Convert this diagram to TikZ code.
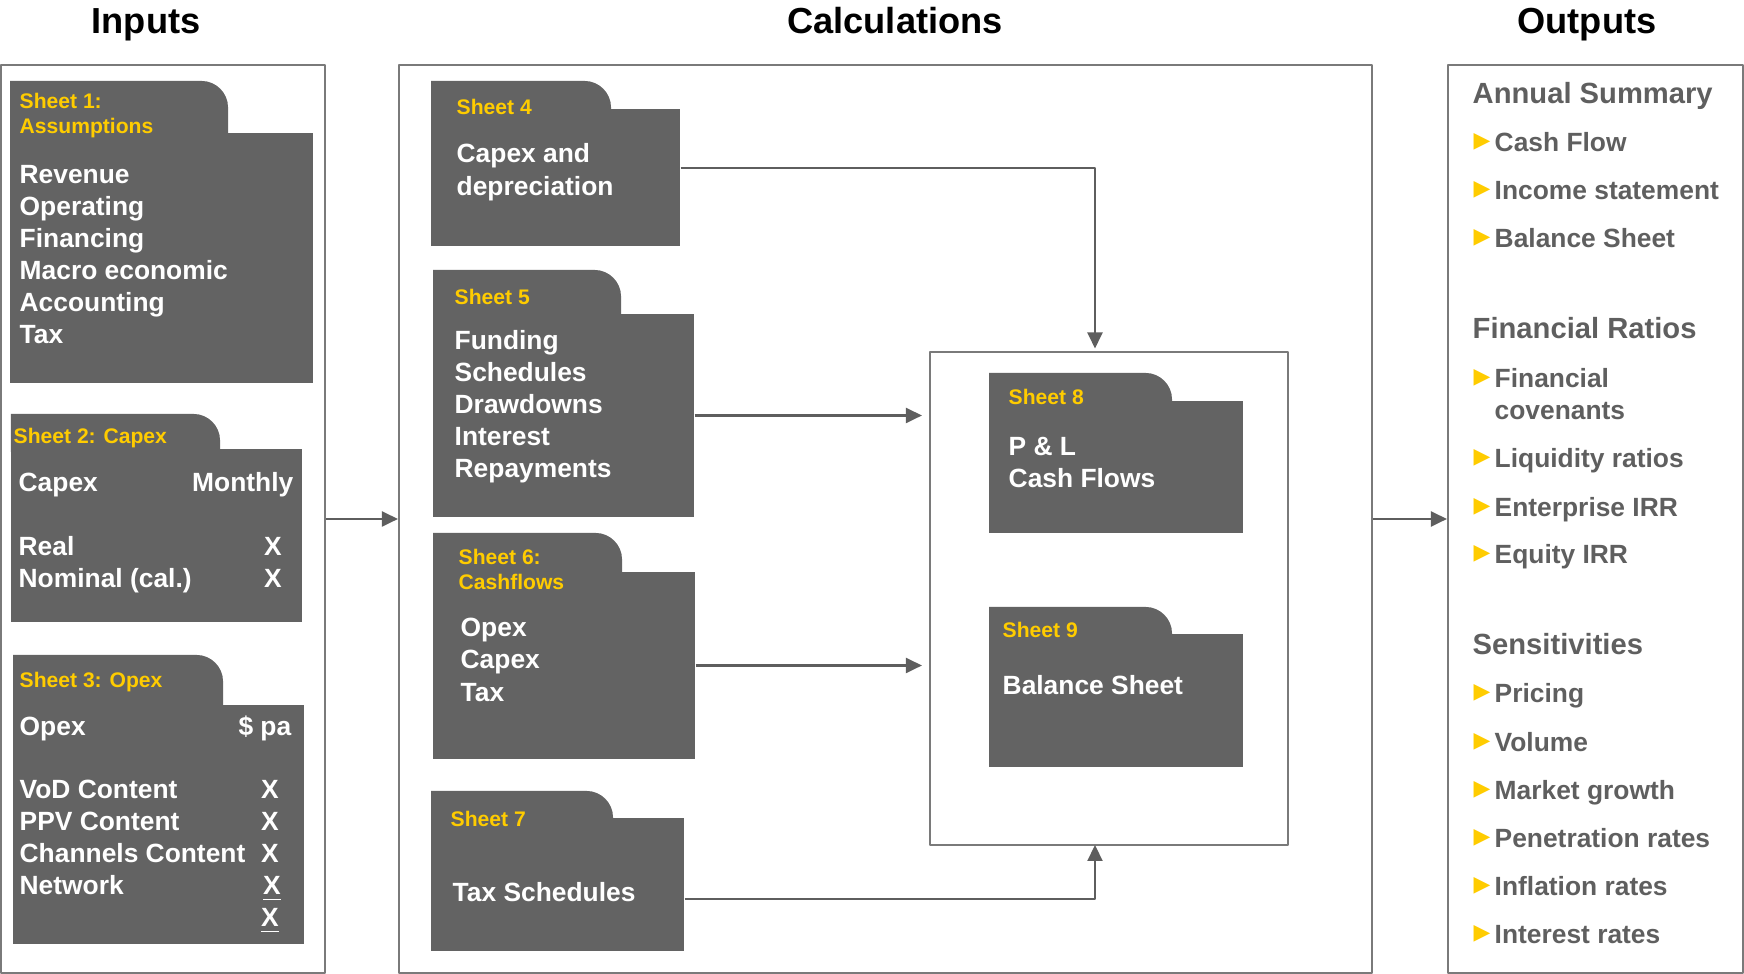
\documentclass[tikz,border=0pt]{standalone}
\usepackage{fontspec}
\setmainfont{Liberation Sans}
\newfontfamily\symfont{DejaVu Sans}
\usetikzlibrary{fit,arrows.meta}
\definecolor{sheetgrey}{HTML}{636363}
\definecolor{tabyellow}{HTML}{FFCC00}
\definecolor{linegrey}{HTML}{7A7A7A}
\definecolor{arrowgrey}{HTML}{5E5E5E}
\definecolor{textgrey}{HTML}{5F5F5F}
\tikzset{
  panel/.style={draw=linegrey, line width=0.6pt, inner sep=0pt},
  sheet/.style={fill=sheetgrey, inner sep=0pt},
  heading/.style={text=black, font=\bfseries\fontsize{10.3}{12}\selectfont, inner sep=0pt, text height=7.4pt, text depth=0pt},
  sheettitle/.style={text=tabyellow, font=\bfseries\fontsize{6}{7.4}\selectfont, anchor=west, inner sep=0pt, text height=4.3pt, text depth=0pt},
  sheetline/.style={text=white, font=\bfseries\fontsize{7.5}{9.1}\selectfont, anchor=west, inner sep=0pt, text height=5.4pt, text depth=0pt},
  outhead/.style={text=textgrey, font=\bfseries\fontsize{8.3}{10}\selectfont, anchor=west, inner sep=0pt, text height=5.9pt, text depth=0pt},
  outitem/.style={text=textgrey, font=\bfseries\fontsize{7.5}{9}\selectfont, anchor=west, inner sep=0pt, text height=5.4pt, text depth=0pt},
  outmark/.style={text=tabyellow, font=\symfont\fontsize{6.2}{7}\selectfont, inner sep=0pt},
  flow/.style={draw=arrowgrey, line width=0.6pt, -{Triangle[length=0.16cm, width=0.15cm]}},
}
% folder: name, left, top, tab right, step, right, bottom
\newcommand{\sheetfolder}[7]{%
  \fill[sheetgrey] (#2,#5+3) -- (#2,#3) -- (#4-26,#3) .. controls (#4-12,#3) and (#4,#3+12) .. (#4,#3+26) -- (#4,#5+3) -- cycle;
  \node[sheet, fit={(#2,#5) (#6,#7)}] (#1) {};
}
\begin{document}
\begin{tikzpicture}[x=0.01cm, y=-0.01cm, line join=round, >=stealth]
\useasboundingbox (0,0) rectangle (1744,974);

% columns
\node[heading] (hin) at (146,21) {Inputs};
\node[heading] (hcalc) at (895,21) {Calculations};
\node[heading] (hout) at (1587,21) {Outputs};
\node[panel, fit={(1,65) (325,973)}] (inputs) {};
\node[panel, fit={(399,65) (1372,973)}] (calc) {};
\node[panel, fit={(1448,65) (1743,973)}] (outputs) {};

% inputs
\sheetfolder{s1}{10}{81}{228}{133}{313}{383}
\node[sheettitle] (s1t) at (19,101) {Sheet 1:};
\node[sheettitle] (s1u) at (19,126) {Assumptions};
\foreach \txt [count=\i] in {Revenue,Operating,Financing,Macro economic,Accounting,Tax}
  \node[sheetline] (s1l\i) at (19,{174+32*(\i-1)}) {\txt};

\sheetfolder{s2}{11}{414}{220}{449}{302}{622}
\node[sheettitle] (s2t) at (13,436) {Sheet 2: Capex};
\node[sheetline] (s2h) at (18,482) {Capex};
\node[sheetline, anchor=east] (s2m) at (294,482) {Monthly};
\node[sheetline] (s2a) at (18,546) {Real};
\node[sheetline] (s2b) at (18,578) {Nominal (cal.)};
\node[sheetline, anchor=center] (s2x1) at (273,546) {X};
\node[sheetline, anchor=center] (s2x2) at (273,578) {X};

\sheetfolder{s3}{13}{655}{223}{705}{304}{944}
\node[sheettitle] (s3t) at (19,680) {Sheet 3: Opex};
\node[sheetline] (s3h) at (19,726) {Opex};
\node[sheetline, anchor=east] (s3m) at (292,726) {\$ pa};
\foreach \txt [count=\i] in {VoD Content,PPV Content,Channels Content,Network}
  \node[sheetline] (s3l\i) at (19,{789+32*(\i-1)}) {\txt};
\foreach \i in {1,2,3}
  \node[sheetline, anchor=center] (s3x\i) at (270,{789+32*(\i-1)}) {X};
\node[sheetline, anchor=center] (s3x4) at (272,885) {\underline{X}};
\node[sheetline, anchor=center] (s3x5) at (270,917) {\underline{X}};

% calculations
\sheetfolder{s4}{431}{81}{611}{109}{680}{246}
\node[sheettitle] (s4t) at (456,107) {Sheet 4};
\node[sheetline] (s4a) at (456,153) {Capex and};
\node[sheetline] (s4b) at (456,186) {depreciation};

\sheetfolder{s5}{433}{270}{621}{314}{694}{517}
\node[sheettitle] (s5t) at (454,297) {Sheet 5};
\foreach \txt [count=\i] in {Funding,Schedules,Drawdowns,Interest,Repayments}
  \node[sheetline] (s5l\i) at (454,{340+32*(\i-1)}) {\txt};

\sheetfolder{s6}{433}{533}{622}{572}{695}{759}
\node[sheettitle] (s6t) at (458,557) {Sheet 6:};
\node[sheettitle] (s6u) at (458,582) {Cashflows};
\foreach \txt [count=\i] in {Opex,Capex,Tax}
  \node[sheetline] (s6l\i) at (460,{627+32.5*(\i-1)}) {\txt};

\sheetfolder{s7}{431}{791}{613}{818}{684}{951}
\node[sheettitle] (s7t) at (450,819) {Sheet 7};
\node[sheetline] (s7a) at (452,892) {Tax Schedules};

\node[panel, fit={(930,352) (1288,845)}] (core) {};
\coordinate (coreN) at (1095,352);
\coordinate (coreS) at (1095,845);

\sheetfolder{s8}{989}{373}{1172}{401}{1243}{533}
\node[sheettitle] (s8t) at (1008,397) {Sheet 8};
\node[sheetline] (s8a) at (1008,446) {P \& L};
\node[sheetline] (s8b) at (1008,478) {Cash Flows};

\sheetfolder{s9}{989}{607}{1172}{634}{1243}{767}
\node[sheettitle] (s9t) at (1002,630) {Sheet 9};
\node[sheetline] (s9a) at (1002,685) {Balance Sheet};

% outputs
\node[outhead] (oh1) at (1472,93) {Annual Summary};
\node[outhead] (oh2) at (1472,328) {Financial Ratios};
\node[outhead] (oh3) at (1472,644) {Sensitivities};
\foreach \y/\txt [count=\i] in {142/Cash Flow,190/Income statement,238/Balance Sheet,
    378/Financial,458/Liquidity ratios,507/Enterprise IRR,554/Equity IRR,
    693/Pricing,742/Volume,790/Market growth,838/Penetration rates,886/Inflation rates,934/Interest rates}{
  \node[outmark] (om\i) at (1482,\y) {▶};
  \node[outitem] (oi\i) at (1494,\y) {\txt};
}
\node[outitem] (oi4b) at (1494,410) {covenants};

% connectors
\draw[flow] (inputs.east) -- (calc.west);
\draw[flow] (calc.east) -- (outputs.west);
\draw[flow, shorten >=1pt] ([yshift=0.095cm]s4.east) -| (coreN);
\draw[flow, shorten >=0.07cm] (s5.east) -- (s5.east -| core.west);
\draw[flow, shorten >=0.07cm] (s6.east) -- (s6.east -| core.west);
\draw[flow] ([yshift=-0.145cm]s7.east) -| (coreS);
\end{tikzpicture}
\end{document}
